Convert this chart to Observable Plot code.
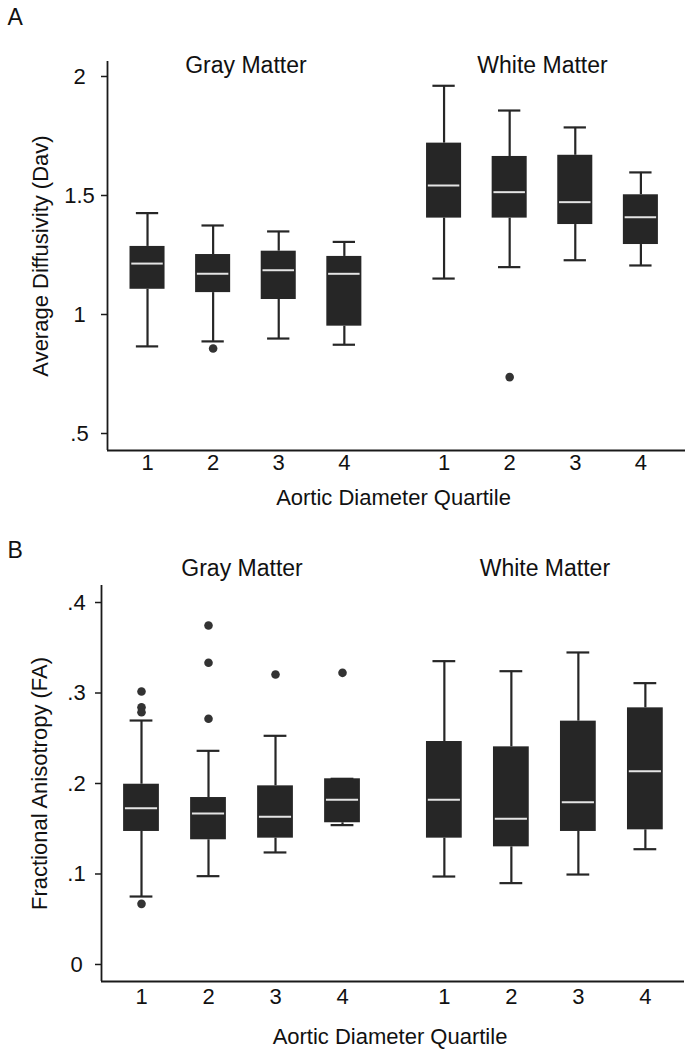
<!DOCTYPE html>
<html><head><meta charset="utf-8">
<script src="https://cdn.jsdelivr.net/npm/d3@7"></script>
<script src="https://cdn.jsdelivr.net/npm/@observablehq/plot@0.6"></script>
<style>
body{margin:0;background:#fff;}
#chart svg{display:block;}
</style></head><body><div id="chart"></div>
<script>
// ---------- shared ----------
const groups = ["Gray Matter", "White Matter"];
const quartiles = [1, 2, 3, 4];
const xLabel = "Aortic Diameter Quartile";

// ---------- Panel A: Average Diffusivity ----------
const davLetter = "A";
const davLabel = "Average Diffusivity (Dav)";
const davTicks = [0.5, 1, 1.5, 2];
const davTickLabels = [".5", "1", "1.5", "2"];
// order: Gray Q1..Q4, White Q1..Q4
const davLow    = [0.866, 0.887, 0.899, 0.873, 1.151, 1.199, 1.228, 1.206];
const davQ1     = [1.106, 1.092, 1.063, 0.951, 1.405, 1.405, 1.378, 1.294];
const davMedian = [1.214, 1.171, 1.186, 1.171, 1.542, 1.514, 1.472, 1.409];
const davQ3     = [1.286, 1.252, 1.266, 1.244, 1.720, 1.664, 1.669, 1.503];
const davHigh   = [1.426, 1.374, 1.349, 1.305, 1.961, 1.857, 1.786, 1.597];
const davOutGroup    = ["Gray Matter", "White Matter"];
const davOutQuartile = [2, 2];
const davOutValue    = [0.857, 0.737];

// ---------- Panel B: Fractional Anisotropy ----------
const faLetter = "B";
const faLabel = "Fractional Anisotropy (FA)";
const faTicks = [0, 0.1, 0.2, 0.3, 0.4];
const faTickLabels = ["0", ".1", ".2", ".3", ".4"];
const faLow    = [0.0751, 0.0976, 0.1238, 0.1540, 0.0972, 0.0899, 0.0994, 0.1274];
const faQ1     = [0.1470, 0.1378, 0.1396, 0.1566, 0.1396, 0.1300, 0.1470, 0.1488];
const faMedian = [0.1727, 0.1668, 0.1632, 0.1820, 0.1820, 0.1610, 0.1794, 0.2136];
const faQ3     = [0.1992, 0.1845, 0.1974, 0.2052, 0.2464, 0.2405, 0.2689, 0.2836];
const faHigh   = [0.2696, 0.2361, 0.2527, 0.2052, 0.3352, 0.3241, 0.3448, 0.3109];
const faOutGroup    = ["Gray Matter", "Gray Matter", "Gray Matter", "Gray Matter", "Gray Matter", "Gray Matter", "Gray Matter", "Gray Matter", "Gray Matter"];
const faOutQuartile = [1, 1, 1, 1, 2, 2, 2, 3, 4];
const faOutValue    = [0.3017, 0.2843, 0.2788, 0.0670, 0.3746, 0.3334, 0.2715, 0.3204, 0.3223];

// ---------- layout ----------
const groupShift = 4.52;  // horizontal gap between the two groups, in quartile steps
const boxHalf = 0.267, capHalf = 0.17, medHalf = 0.24;
const FONT = "'Liberation Sans', Arial, Helvetica, sans-serif";
const INK = "#262626";
const FS = 22;

function panel(d, L) {
  const rows = groups.flatMap((g, gi) => quartiles.map((q, qi) => {
    const i = gi * quartiles.length + qi;
    return {group: g, gi, quartile: q, pos: q + gi * groupShift,
      low: d.low[i], q1: d.q1[i], median: d.median[i], q3: d.q3[i], high: d.high[i]};
  }));
  const outliers = d.outValue.map((v, i) => {
    const gi = groups.indexOf(d.outGroup[i]);
    return {pos: d.outQuartile[i] + gi * groupShift, value: v};
  });
  const titles = groups.map((g, gi) => ({text: g, pos: d3.mean(quartiles) + gi * groupShift}));
  return Plot.plot({
    width: 691, height: 525,
    marginTop: L.marginTop, marginBottom: L.marginBottom,
    marginLeft: L.marginLeft, marginRight: L.marginRight,
    style: {fontFamily: FONT, fontSize: FS + "px", color: "#111", background: "#fff"},
    x: {domain: L.xDomain, axis: null},
    y: {domain: L.yDomain},
    marks: [
      // whiskers
      Plot.ruleX(rows, {x: "pos", y1: "low", y2: "q1", stroke: INK, strokeWidth: 2.2}),
      Plot.ruleX(rows, {x: "pos", y1: "q3", y2: "high", stroke: INK, strokeWidth: 2.2}),
      Plot.ruleY(rows, {y: "low", x1: r => r.pos - capHalf, x2: r => r.pos + capHalf, stroke: INK, strokeWidth: 2.2}),
      Plot.ruleY(rows, {y: "high", x1: r => r.pos - capHalf, x2: r => r.pos + capHalf, stroke: INK, strokeWidth: 2.2}),
      // boxes
      Plot.rect(rows, {x1: r => r.pos - boxHalf, x2: r => r.pos + boxHalf, y1: "q1", y2: "q3", fill: INK}),
      // medians
      Plot.ruleY(rows, {y: "median", x1: r => r.pos - medHalf, x2: r => r.pos + medHalf, stroke: "#e4e4e4", strokeWidth: 2}),
      // outliers
      Plot.dot(outliers, {x: "pos", y: "value", r: 4.3, fill: "#333", stroke: null}),
      // axis lines
      Plot.ruleX([L.xDomain[0]], {stroke: "#1a1a1a", strokeWidth: 1.8}),
      Plot.ruleY([L.yDomain[0]], {stroke: "#1a1a1a", strokeWidth: 1.8}),
      Plot.axisY({ticks: d.ticks, tickSize: 6, tickFormat: () => "", strokeWidth: 1.5, stroke: "#1a1a1a"}),
      Plot.text(d.ticks, {y: v => v, text: (v, i) => d.tickLabels[i], frameAnchor: "left", dx: L.tickDx,
        textAnchor: "middle", fontSize: FS, fill: "#111"}),
      // x tick labels
      Plot.text(rows, {x: "pos", text: r => String(r.quartile), frameAnchor: "bottom", dy: L.xTickDy,
        fontSize: FS, fill: "#111"}),
      // axis titles
      Plot.text([xLabel], {frameAnchor: "bottom", dy: L.xLabelDy, dx: -3, fontSize: FS, fill: "#111"}),
      Plot.text([d.yLabel], {frameAnchor: "left", dx: L.yLabelDx, rotate: -90, textAnchor: "middle",
        lineAnchor: "middle", fontSize: FS, fill: "#111"}),
      // group titles
      Plot.text(titles, {x: "pos", text: "text", frameAnchor: "top", dy: L.titleDy, fontSize: 23, fill: "#111"}),
      // panel letter
      Plot.text([d.letter], {frameAnchor: "top-left", dx: L.letterDx, dy: L.letterDy, textAnchor: "start",
        fontSize: 23, fill: "#111"})
    ]
  });
}

const chart = document.getElementById("chart");
chart.append(panel(
  {letter: davLetter, yLabel: davLabel, ticks: davTicks, tickLabels: davTickLabels,
   low: davLow, q1: davQ1, median: davMedian, q3: davQ3, high: davHigh,
   outGroup: davOutGroup, outQuartile: davOutQuartile, outValue: davOutValue},
  {marginTop: 61, marginBottom: 75, marginLeft: 107, marginRight: 6,
   xDomain: [0.39, 9.2], yDomain: [0.4286, 2.063],
   letterDx: -100, letterDy: -53, titleDy: -5, yLabelDx: -67, tickDx: -28, xTickDy: 19, xLabelDy: 54}
));
chart.append(panel(
  {letter: faLetter, yLabel: faLabel, ticks: faTicks, tickLabels: faTickLabels,
   low: faLow, q1: faQ1, median: faMedian, q3: faQ3, high: faHigh,
   outGroup: faOutGroup, outQuartile: faOutQuartile, outValue: faOutValue},
  {marginTop: 60, marginBottom: 69, marginLeft: 101, marginRight: 7,
   xDomain: [0.403, 9.104], yDomain: [-0.0188, 0.4188],
   letterDx: -94, letterDy: -44, titleDy: -26, yLabelDx: -62, tickDx: -25, xTickDy: 22, xLabelDy: 62}
));
</script></body></html>
